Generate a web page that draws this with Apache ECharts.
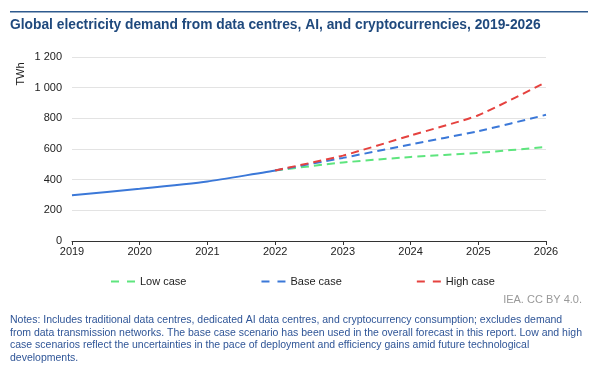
<!DOCTYPE html>
<html>
<head>
<meta charset="utf-8">
<script src="https://cdn.jsdelivr.net/npm/echarts@6/dist/echarts.min.js"></script>
<style>
html,body{margin:0;padding:0;background:#fff;}
#chart{width:602px;height:365px;}
</style>
</head>
<body>
<div id="chart"></div>
<script>
var years = ['2019','2020','2021','2022','2023','2024','2025','2026'];
var historical = [298, 340, 388, 460, null, null, null, null];
var lowCase = [null, null, null, 460, 512, 548, 575, 613];
var baseCase = [null, null, null, 460, 542, 630, 716, 823];
var highCase = [null, null, null, 460, 557, 688, 820, 1036];
var yTicks = [0, 200, 400, 600, 800, 1000, 1200];
var legendNames = ['Low case', 'Base case', 'High case'];

var FONT = 'Liberation Sans, Arial, sans-serif';
var chart = echarts.init(document.getElementById('chart'), null, {renderer: 'canvas'});

function dashed(name, data, color) {
  return {
    name: name, type: 'line', data: data, smooth: 0.18,
    symbol: 'none', showSymbol: false, connectNulls: false,
    lineStyle: {color: color, width: 2, type: [8, 5]},
    itemStyle: {color: color},
    z: 2
  };
}

chart.setOption({
  animation: false,
  textStyle: {fontFamily: FONT},
  grid: {left: 72, right: 56, top: 57, bottom: 124},
  xAxis: {
    type: 'category', data: years, boundaryGap: false,
    axisLine: {lineStyle: {color: '#333', width: 1}},
    axisTick: {show: true, length: 4, lineStyle: {color: '#333'}},
    axisLabel: {color: '#222', fontSize: 11, margin: 5, fontFamily: FONT},
    splitLine: {show: false}
  },
  yAxis: {
    type: 'value', min: yTicks[0], max: yTicks[yTicks.length - 1], interval: 200,
    axisLine: {show: false}, axisTick: {show: false},
    axisLabel: {color: '#222', fontSize: 11, margin: 10, fontFamily: FONT,
      formatter: function (v) { return String(v).replace(/\B(?=(\d{3})+(?!\d))/g, ' '); }},
    splitLine: {lineStyle: {color: '#e3e3e3', width: 1}}
  },
  legend: {
    data: legendNames,
    left: 106, top: 271, itemWidth: 24, itemHeight: 3, itemGap: 75,
    icon: 'path://M0,0H8V2H0Z M16,0H24V2H16Z',
    textStyle: {color: '#222', fontSize: 11, fontFamily: FONT}
  },
  series: [
    dashed('Low case', lowCase, '#5ee57e'),
    dashed('Base case', baseCase, '#3b78d8'),
    dashed('High case', highCase, '#e5423f'),
    {
      name: 'Historical', type: 'line', data: historical, smooth: 0.18,
      symbol: 'none', showSymbol: false,
      lineStyle: {color: '#3b78d8', width: 2, type: 'solid'},
      itemStyle: {color: '#3b78d8'}, z: 3
    }
  ],
  graphic: [
    {type: 'rect', left: 10, top: 11, shape: {width: 578, height: 1.5}, style: {fill: '#2e5a8e'}},
    {type: 'text', left: 10, top: 18, style: {text: 'Global electricity demand from data centres, AI, and cryptocurrencies, 2019-2026',
      font: 'bold 13.8px ' + FONT, fill: '#1f497d'}},
    {type: 'text', x: 21, y: 74, rotation: Math.PI / 2,
      style: {text: 'TWh', font: '11px ' + FONT, fill: '#222', align: 'center', verticalAlign: 'middle'}},
    {type: 'text', right: 20, top: 294, style: {text: 'IEA. CC BY 4.0.', font: '11px ' + FONT, fill: '#999'}},
    {type: 'text', left: 10, top: 314, style: {
      text: 'Notes: Includes traditional data centres, dedicated AI data centres, and cryptocurrency consumption; excludes demand\nfrom data transmission networks. The base case scenario has been used in the overall forecast in this report. Low and high\ncase scenarios reflect the uncertainties in the pace of deployment and efficiency gains amid future technological\ndevelopments.',
      font: '10.5px ' + FONT, fill: '#2f5597', lineHeight: 12.6}}
  ]
});
</script>
</body>
</html>
